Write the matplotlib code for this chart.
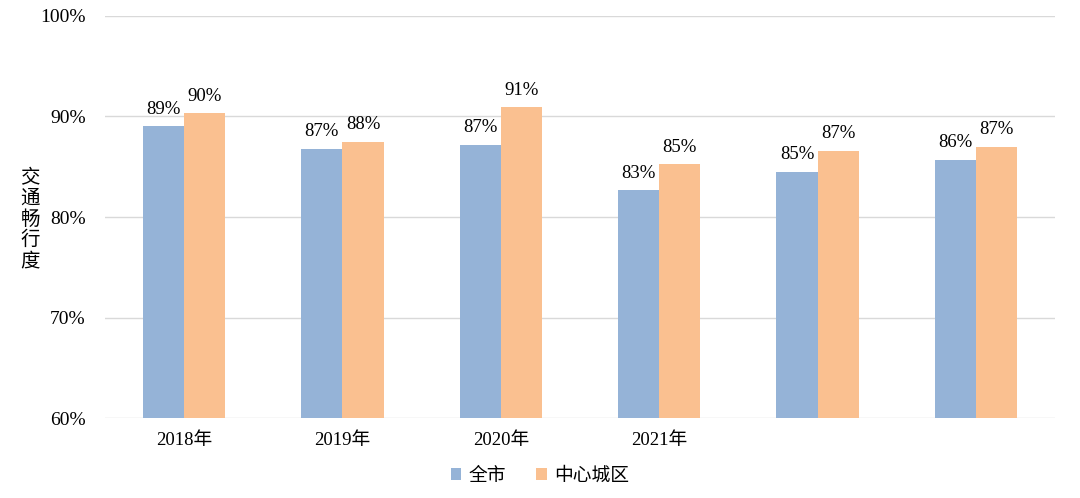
import matplotlib.pyplot as plt
import numpy as np

plt.rcParams['font.family'] = ['Liberation Serif', 'Noto Sans CJK SC']

years = ["2018年", "2019年", "2020年", "2021年", "", ""]
city = [89.05, 86.8, 87.2, 82.7, 84.5, 85.7]
center = [90.35, 87.5, 90.95, 85.25, 86.6, 87.0]
city_labels = [89, 87, 87, 83, 85, 86]
center_labels = [90, 88, 91, 85, 87, 87]

blue = '#95B3D7'
orange = '#FAC090'

fig = plt.figure(figsize=(10.8, 4.98), dpi=100)
ax = fig.add_axes([0.0972, 0.1606, 0.8797, 0.8073])

x = np.arange(len(years))
w = 0.26
b1 = ax.bar(x - w / 2, np.array(city) - 60, w, bottom=60, color=blue, label='全市', zorder=3)
b2 = ax.bar(x + w / 2, np.array(center) - 60, w, bottom=60, color=orange, label='中心城区', zorder=3)

for bars, labs in ((b1, city_labels), (b2, center_labels)):
    for rect, lab in zip(bars, labs):
        ax.annotate(f"{lab}%", (rect.get_x() + rect.get_width() / 2, rect.get_y() + rect.get_height()),
                    xytext=(0, 6), textcoords='offset points', ha='center', va='bottom', fontsize=13.5)

ax.set_xlim(-0.5, len(years) - 0.5)
ax.set_ylim(60, 100)
ax.set_yticks([60, 70, 80, 90, 100])
ax.set_yticklabels([f"{v}%" for v in [60, 70, 80, 90, 100]], fontsize=14)
ax.set_xticks(x)
ax.set_xticklabels(years, fontsize=13.5)
ax.tick_params(length=0)
ax.tick_params(axis='y', pad=14)
ax.tick_params(axis='x', pad=10)
ax.yaxis.grid(True, color='#D9D9D9', linewidth=1, zorder=0)
for s in ax.spines.values():
    s.set_visible(False)

fig.text(0.028, 0.56, "交\n通\n畅\n行\n度", ha='center', va='center', fontsize=14,
         linespacing=0.98, family=['Noto Sans CJK SC'])

fig.legend(handles=[b1, b2], loc='center', bbox_to_anchor=(0.5, 0.046), ncol=2, frameon=False,
           handlelength=0.55, handleheight=0.55, handletextpad=0.4, columnspacing=1.6,
           prop={'family': ['Noto Sans CJK SC'], 'size': 13.5})

fig.savefig('out.png', dpi=100)
